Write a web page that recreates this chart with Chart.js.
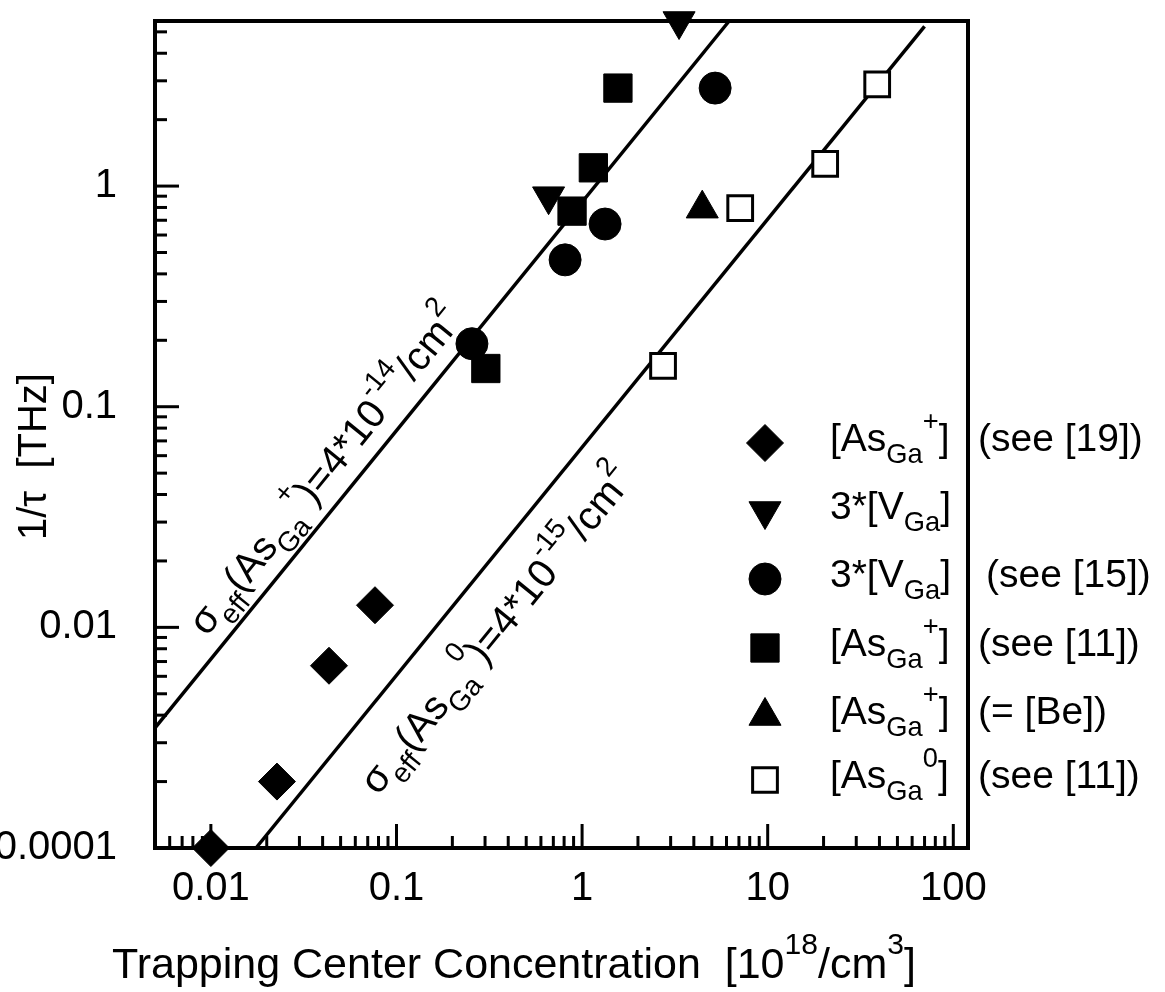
<!DOCTYPE html>
<html>
<head>
<meta charset="utf-8">
<script src="https://cdn.jsdelivr.net/npm/chart.js@4.4.1/dist/chart.umd.min.js"></script>
<style>
  html, body { margin: 0; padding: 0; background: #fff; }
</style>
</head>
<body>
<canvas id="chart" width="1165" height="992"></canvas>
<script>
const FONT = "'Liberation Sans', Arial, Helvetica, sans-serif";

// x = trapping center concentration [1e18/cm3], y = 1/tau [THz]
const asGaPlus19X = [0.01, 0.0227, 0.0433, 0.0766];
const asGaPlus19Y = [0.001, 0.0020, 0.0067, 0.0126];
const vGaX = [0.66, 3.33];
const vGaY = [0.90, 5.6];
const vGa15X = [0.255, 0.81, 1.33, 5.21];
const vGa15Y = [0.193, 0.463, 0.673, 2.78];
const asGaPlus11X = [0.303, 0.883, 1.15, 1.56];
const asGaPlus11Y = [0.149, 0.77, 1.21, 2.78];
const asGaPlusBeX = [4.44];
const asGaPlusBeY = [0.79];
const asGa0X = [2.73, 7.11, 20.4, 38.9];
const asGa0Y = [0.153, 0.795, 1.26, 2.89];

// the two sigma_eff lines
const fitPlusX = [0.005, 6.2];
const fitPlusY = [0.0035, 5.6];
const fitZeroX = [0.0175, 70];
const fitZeroY = [0.001, 5.3];

const xTickValues = [0.01, 0.1, 1, 10, 100];
const xTickLabels = ['0.01', '0.1', '1', '10', '100'];
// bottom decade is printed as 0.0001 in the original figure
const yTickValues = [0.001, 0.01, 0.1, 1];
const yTickLabels = ['0.0001', '0.01', '0.1', '1'];

const legendLabels = ['[As_{Ga}^{+}]', '3*[V_{Ga}]', '3*[V_{Ga}]', '[As_{Ga}^{+}]', '[As_{Ga}^{+}]', '[As_{Ga}^{0}]'];
const legendRefs = ['(see [19])', '', '(see [15])', '(see [11])', '(= [Be])', '(see [11])'];
const noteA = '\u03c3_{eff}(As_{Ga}^{+})=4*10^{-14}/cm^{2}';
const noteB = '\u03c3_{eff}(As_{Ga}^{0})=4*10^{-15}/cm^{2}';
const xTitle = 'Trapping Center Concentration  [10^{18}/cm^{3}]';
const yTitle = '1/\u03c4  [THz]';

function pts(xs, ys) {
  return xs.map((x, i) => ({ x: x, y: ys[i] }));
}

function logTicks(min, max) {
  const out = [];
  for (let e = Math.floor(Math.log10(min)); e <= Math.ceil(Math.log10(max)); e++) {
    for (let m = 1; m <= 9; m++) {
      const v = m * Math.pow(10, e);
      if (v >= min * 0.999 && v <= max * 1.001) out.push({ value: v });
    }
  }
  return out;
}

function isDecade(v) {
  const l = Math.log10(v);
  return Math.abs(l - Math.round(l)) < 1e-6;
}

function labelFor(values, labels, v) {
  const i = values.findIndex(t => Math.abs(Math.log10(t) - Math.log10(v)) < 1e-6);
  return i < 0 ? '' : labels[i];
}

// "a_{sub}^{sup}" -> parts
function parseRich(str) {
  const parts = [];
  let i = 0, buf = '';
  while (i < str.length) {
    const c = str[i];
    if ((c === '_' || c === '^') && str[i + 1] === '{') {
      if (buf) { parts.push({ t: buf }); buf = ''; }
      const end = str.indexOf('}', i);
      parts.push({ t: str.slice(i + 2, end), sub: c === '_', sup: c === '^' });
      i = end + 1;
    } else {
      buf += c;
      i++;
    }
  }
  if (buf) parts.push({ t: buf });
  return parts;
}

function drawRich(ctx, str, x, y, size) {
  let cx = x;
  parseRich(str).forEach(p => {
    const s = (p.sub || p.sup) ? size * 0.7 : size;
    ctx.font = s + 'px ' + FONT;
    const dy = p.sub ? size * 0.32 : (p.sup ? -size * 0.55 : 0);
    ctx.fillText(p.t, cx, y + dy);
    cx += ctx.measureText(p.t).width;
  });
  return cx - x;
}

const markerSets = [
  { label: 'asGaPlus19', data: pts(asGaPlus19X, asGaPlus19Y), pointStyle: 'rectRot', pointRadius: 18.5, rotation: 0, fill: '#000' },
  { label: 'vGa', data: pts(vGaX, vGaY), pointStyle: 'triangle', pointRadius: 18.5, rotation: 180, fill: '#000' },
  { label: 'vGa15', data: pts(vGa15X, vGa15Y), pointStyle: 'circle', pointRadius: 16, rotation: 0, fill: '#000' },
  { label: 'asGaPlus11', data: pts(asGaPlus11X, asGaPlus11Y), pointStyle: 'rect', pointRadius: 20, rotation: 0, fill: '#000' },
  { label: 'asGaPlusBe', data: pts(asGaPlusBeX, asGaPlusBeY), pointStyle: 'triangle', pointRadius: 18.5, rotation: 0, fill: '#000' },
  { label: 'asGa0', data: pts(asGa0X, asGa0Y), pointStyle: 'rect', pointRadius: 17.5, rotation: 0, fill: '#fff' }
];

const datasets = markerSets.map(m => ({
  label: m.label,
  data: m.data,
  showLine: false,
  pointStyle: m.pointStyle,
  pointRadius: m.pointRadius,
  rotation: m.rotation,
  pointBackgroundColor: m.fill,
  pointBorderColor: '#000',
  pointBorderWidth: m.fill === '#fff' ? 3 : 1,
  clip: false
}));

[[fitPlusX, fitPlusY], [fitZeroX, fitZeroY]].forEach((l, i) => {
  datasets.push({
    label: 'fit' + i,
    data: pts(l[0], l[1]),
    showLine: true,
    borderColor: '#000',
    borderWidth: 3.5,
    pointRadius: 0,
    clip: false
  });
});

const frameTicks = {
  id: 'frameTicks',
  beforeDatasetsDraw(chart) {
    const { ctx, chartArea: a } = chart;
    const x = chart.scales.x, y = chart.scales.y;
    ctx.save();
    ctx.strokeStyle = '#000';
    ctx.lineWidth = 3;
    x.ticks.forEach(t => {
      if (t.value <= x.min * 1.001 || t.value >= x.max * 0.999) return;
      const px = x.getPixelForValue(t.value);
      const len = isDecade(t.value) ? 24 : 12;
      ctx.beginPath();
      ctx.moveTo(px, a.bottom);
      ctx.lineTo(px, a.bottom - len);
      ctx.stroke();
    });
    y.ticks.forEach(t => {
      if (t.value <= y.min * 1.001 || t.value >= y.max * 0.999) return;
      const py = y.getPixelForValue(t.value);
      const len = isDecade(t.value) ? 24 : 12;
      ctx.beginPath();
      ctx.moveTo(a.left, py);
      ctx.lineTo(a.left + len, py);
      ctx.stroke();
    });
    ctx.lineWidth = 4;
    ctx.strokeRect(a.left, a.top, a.right - a.left, a.bottom - a.top);
    ctx.restore();
  }
};

function drawMarker(ctx, m, px, py) {
  ctx.fillStyle = m.fill;
  ctx.strokeStyle = '#000';
  ctx.lineWidth = m.fill === '#fff' ? 3 : 1;
  Chart.helpers.drawPoint(ctx, { pointStyle: m.pointStyle, radius: m.pointRadius, rotation: m.rotation, borderWidth: ctx.lineWidth }, px, py);
}

const annotations = {
  id: 'annotations',
  afterDraw(chart) {
    const { ctx, chartArea: a } = chart;
    const x = chart.scales.x, y = chart.scales.y;
    ctx.save();
    ctx.fillStyle = '#000';
    ctx.textBaseline = 'alphabetic';
    ctx.textAlign = 'left';

    // notes along the two lines
    [[fitPlusX, fitPlusY, noteA, 103, 17], [fitZeroX, fitZeroY, noteB, 117, -62]].forEach(n => {
      const x1 = x.getPixelForValue(n[0][0]), y1 = y.getPixelForValue(n[1][0]);
      const x2 = x.getPixelForValue(n[0][1]), y2 = y.getPixelForValue(n[1][1]);
      const len = Math.hypot(x2 - x1, y2 - y1);
      const ux = (x2 - x1) / len, uy = (y2 - y1) / len;
      const ox = x1 + ux * n[3] + uy * n[4];
      const oy = y1 + uy * n[3] - ux * n[4];
      ctx.save();
      ctx.translate(ox, oy);
      ctx.rotate(Math.atan2(uy, ux));
      drawRich(ctx, n[2], 0, 0, 40);
      ctx.restore();
    });

    // legend
    const rowY = [443, 511, 579, 648, 716, 780];
    markerSets.forEach((m, i) => {
      drawMarker(ctx, m, a.right - 203, rowY[i]);
      ctx.fillStyle = '#000';
      drawRich(ctx, legendLabels[i], a.right - 138, rowY[i] + 8, 39);
      if (legendRefs[i]) {
        ctx.font = '39px ' + FONT;
        ctx.fillText(legendRefs[i], a.right + (i === 2 ? 18 : 10), rowY[i] + 8);
      }
    });

    // axis titles
    drawRich(ctx, xTitle, 112, 978, 43);
    ctx.save();
    ctx.translate(46, 540);
    ctx.rotate(-Math.PI / 2);
    drawRich(ctx, yTitle, 0, 0, 40);
    ctx.restore();
    ctx.restore();
  }
};

new Chart(document.getElementById('chart'), {
  type: 'scatter',
  data: { datasets: datasets },
  options: {
    responsive: false,
    animation: false,
    events: [],
    layout: { padding: { left: 0, top: 17, right: 197, bottom: 0 } },
    plugins: { legend: { display: false }, tooltip: { enabled: false } },
    scales: {
      x: {
        type: 'logarithmic',
        min: 0.005,
        max: 120,
        grid: { display: false },
        border: { display: false },
        afterBuildTicks: s => { s.ticks = logTicks(s.min, s.max); },
        afterFit: s => { s.height = 144; s.paddingLeft = 0; s.paddingRight = 0; },
        ticks: {
          autoSkip: false,
          maxRotation: 0,
          padding: 9,
          color: '#000',
          font: { family: FONT, size: 40 },
          callback: v => labelFor(xTickValues, xTickLabels, v)
        }
      },
      y: {
        type: 'logarithmic',
        min: 0.001,
        max: 5.6,
        grid: { display: false },
        border: { display: false },
        afterBuildTicks: s => { s.ticks = logTicks(s.min, s.max); },
        afterFit: s => { s.width = 155; s.paddingTop = 0; s.paddingBottom = 0; },
        ticks: {
          autoSkip: false,
          padding: 30,
          color: '#000',
          font: { family: FONT, size: 40 },
          callback: v => labelFor(yTickValues, yTickLabels, v)
        }
      }
    }
  },
  plugins: [frameTicks, annotations]
});
</script>
</body>
</html>
